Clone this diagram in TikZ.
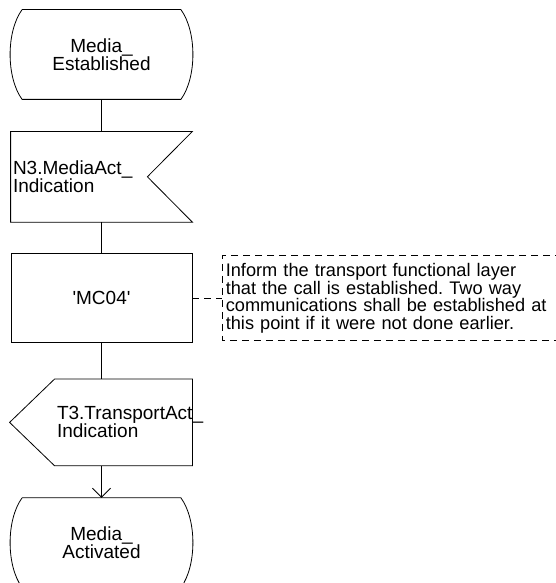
\documentclass[tikz,border=0pt]{standalone}
\usepackage{fontspec}
\setmainfont{Liberation Sans}
\usetikzlibrary{positioning,arrows.meta,calc}

\begin{document}
\frenchspacing
\begin{tikzpicture}[
    x=1pt, y=-1pt,
    line width=0.8pt,
    every node/.style={font=\fontsize{19pt}{18pt}\selectfont},
    statebox/.style={minimum width=158pt, minimum height=89pt, inner sep=0pt, align=center},
    inputbox/.style={minimum width=181pt, minimum height=90pt, text width=177pt, inner xsep=2pt, inner ysep=0pt, align=left},
    taskbox/.style={draw, minimum width=181pt, minimum height=89pt, inner sep=0pt, align=center},
    outputbox/.style={minimum width=137pt, minimum height=86pt, text width=133pt, inner xsep=2pt, inner ysep=0pt, align=left},
    notebox/.style={minimum height=84pt, text width=345pt, inner xsep=3pt, inner ysep=0pt, align=left, font=\fontsize{18.2pt}{17.5pt}\selectfont},
    dashline/.style={dash pattern=on 7pt off 5pt}
]
  \useasboundingbox (0,0) rectangle (555,583);

  \node[statebox] (est) at (101.5,54.5) {Media\_\\Established};
  \node[inputbox, below=32pt of est] (mact) {N3.MediaAct\_\\Indication};
  \node[taskbox, below=31pt of mact] (mc) {\textquotesingle MC04\textquotesingle};
  \node[outputbox, below=36pt of mc, xshift=22pt] (tact) {T3.TransportAct\_\\Indication};
  \node[statebox, below=32pt of tact, xshift=-22pt] (actv) {Media\_\\Activated};
  \node[notebox, right=30pt of mc] (note) {Inform the transport functional layer\\that the call is established. Two way\\communications shall be established at\\this point if it were not done earlier.};

  % symbol outlines
  \draw (est.north west) -- (est.north east) .. controls +(16,22) and +(16,-22) .. (est.south east)
        -- (est.south west) .. controls +(-16,-22) and +(-16,22) .. (est.north west);
  \draw (mact.north west) -- (mact.north east) -- ($(mact.east)+(-45,0)$) -- (mact.south east) -- (mact.south west) -- cycle;
  \draw (tact.north west) -- (tact.north east) -- (tact.south east) -- (tact.south west) -- ($(tact.west)+(-45,0)$) -- cycle;
  \draw (actv.north west) -- (actv.north east) .. controls +(16,22) and +(16,-22) .. (actv.south east)
        -- (actv.south west) .. controls +(-16,-22) and +(-16,22) .. (actv.north west);
  \draw[dashline] (note.north east) -- (note.north west) -- (note.south west) -- (note.south east);

  % flow
  \draw (est) -- (mact);
  \draw (mact) -- (mc);
  \draw (mc.south) -- (mc.south |- tact.north);
  \draw[-{Straight Barb[length=9pt,width=18pt]}] (actv.north |- tact.south) -- (actv.north);
  \draw[dashline] (mc) -- (note);
\end{tikzpicture}
\end{document}
